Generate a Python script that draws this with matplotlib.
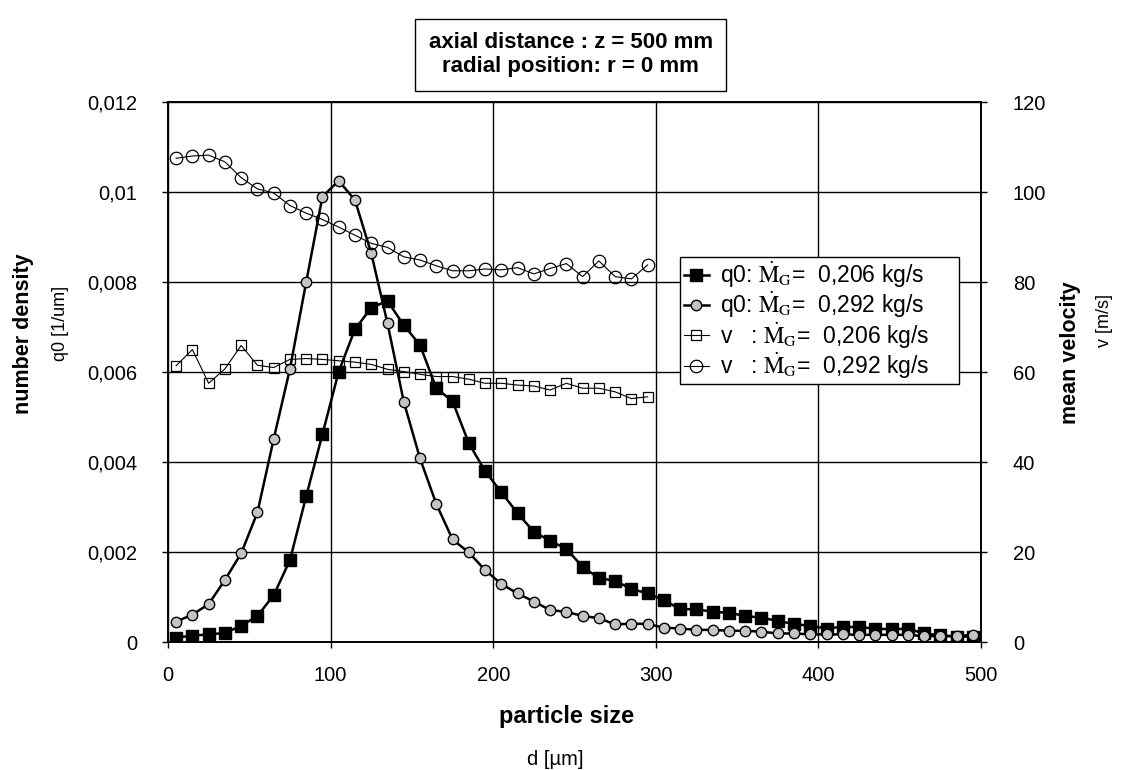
import matplotlib
matplotlib.use("Agg")
import matplotlib.pyplot as plt
from matplotlib.ticker import FuncFormatter, MultipleLocator

plt.rcParams['font.family'] = ['Liberation Sans', 'DejaVu Sans']
plt.rcParams['mathtext.fontset'] = 'stix'

# ---- data ----
d_q0 = list(range(5, 500, 10))
q0_206 = [0.00010, 0.00014, 0.00017, 0.00020, 0.00036, 0.00058, 0.00104, 0.00182, 0.00324, 0.00462,
          0.00601, 0.00695, 0.00743, 0.00758, 0.00704, 0.00660, 0.00564, 0.00535, 0.00442, 0.00380,
          0.00333, 0.00286, 0.00245, 0.00225, 0.00207, 0.00167, 0.00142, 0.00136, 0.00118, 0.00108,
          0.00093, 0.00073, 0.00073, 0.00067, 0.00065, 0.00058, 0.00054, 0.00047, 0.00040, 0.00036,
          0.00030, 0.00034, 0.00033, 0.00030, 0.00028, 0.00030, 0.00019, 0.00015, 0.00012, 0.00012]
q0_292 = [0.00045, 0.00061, 0.00084, 0.00138, 0.00197, 0.00288, 0.00451, 0.00607, 0.00800, 0.00990,
          0.01025, 0.00982, 0.00864, 0.00708, 0.00534, 0.00408, 0.00307, 0.00228, 0.00199, 0.00160,
          0.00129, 0.00108, 0.00090, 0.00071, 0.00067, 0.00058, 0.00053, 0.00039, 0.00041, 0.00040,
          0.00032, 0.00030, 0.00027, 0.00027, 0.00025, 0.00025, 0.00023, 0.00019, 0.00019, 0.00017,
          0.00017, 0.00017, 0.00016, 0.00016, 0.00016, 0.00016, 0.00013, 0.00013, 0.00013, 0.00016]
d_v = list(range(5, 300, 10))
v_206 = [61.4, 65.0, 57.5, 60.7, 65.9, 61.5, 61.0, 62.8, 63.0, 62.8,
         62.5, 62.2, 61.7, 60.6, 60.1, 59.5, 59.0, 59.0, 58.4, 57.5,
         57.5, 57.1, 56.9, 56.0, 57.5, 56.4, 56.4, 55.6, 54.1, 54.5]
v_292 = [107.5, 108.0, 108.2, 106.7, 103.2, 100.7, 99.8, 97.0, 95.3, 93.9,
         92.2, 90.4, 88.6, 87.7, 85.6, 84.9, 83.6, 82.5, 82.5, 82.9,
         82.7, 83.2, 81.8, 83.0, 84.1, 81.2, 84.7, 81.2, 80.7, 83.8]

labels = [r"q0: $\dot{\mathrm{M}}_{\mathrm{G}}$=  0,206 kg/s     ",
          r"q0: $\dot{\mathrm{M}}_{\mathrm{G}}$=  0,292 kg/s     ",
          r"v   : $\dot{\mathrm{M}}_{\mathrm{G}}$=  0,206 kg/s     ",
          r"v   : $\dot{\mathrm{M}}_{\mathrm{G}}$=  0,292 kg/s     "]

fig = plt.figure(figsize=(11.26, 7.7), dpi=100)
ax = fig.add_axes([0.1492, 0.1662, 0.7220, 0.7013])
ax2 = ax.twinx()

l1, = ax.plot(d_q0, q0_206, color='black', lw=1.8, marker='s', ms=8,
              mfc='black', mec='black', label=labels[0], zorder=3)
l2, = ax.plot(d_q0, q0_292, color='black', lw=1.8, marker='o', ms=7.5,
              mfc='#c4c4c4', mec='black', mew=1.0, label=labels[1], zorder=3)
l3, = ax2.plot(d_v, v_206, color='black', lw=0.8, marker='s', ms=7.5,
               mfc='none', mec='black', mew=0.9, label=labels[2])
l4, = ax2.plot(d_v, v_292, color='black', lw=0.8, marker='o', ms=9,
               mfc='none', mec='black', mew=0.9, label=labels[3])

ax.set_xlim(0, 500)
ax.set_ylim(0, 0.012)
ax2.set_ylim(0, 120)
ax.xaxis.set_major_locator(MultipleLocator(100))
ax.yaxis.set_major_locator(MultipleLocator(0.002))
ax2.yaxis.set_major_locator(MultipleLocator(20))
ax.yaxis.set_major_formatter(FuncFormatter(lambda v, p: "0" if abs(v) < 1e-12 else f"{v:g}".replace('.', ',')))
ax.grid(True, color='black', lw=1.0)
ax.set_axisbelow(True)

for a in (ax, ax2):
    a.tick_params(labelsize=14.5, length=4, width=1, color='black', direction='out')
    for s in a.spines.values():
        s.set_linewidth(1.2)
        s.set_color('black')
ax.tick_params(axis='y', pad=18)
ax.tick_params(axis='x', pad=13)
ax2.tick_params(axis='y', pad=19)

# axis labels
fig.text(0.021, 0.567, "number density", rotation=90, ha='center', va='center',
         fontsize=15.5, fontweight='bold')
fig.text(0.054, 0.58, "q0 [1/um]", rotation=90, ha='center', va='center', fontsize=13)
fig.text(0.951, 0.542, "mean velocity", rotation=90, ha='center', va='center',
         fontsize=15.5, fontweight='bold')
fig.text(0.981, 0.584, "v [m/s]", rotation=90, ha='center', va='center', fontsize=13)
fig.text(0.503, 0.069, "particle size", ha='center', va='center', fontsize=17, fontweight='bold')
fig.text(0.493, 0.013, "d [µm]", ha='center', va='center', fontsize=14.5)

# title box
fig.text(0.507, 0.929, "axial distance : z = 500 mm\nradial position: r = 0 mm",
         ha='center', va='center', fontsize=16, fontweight='bold', linespacing=1.2,
         bbox=dict(boxstyle='square,pad=0.6', fc='white', ec='black', lw=1.0))

leg = ax2.legend(handles=[l1, l2, l3, l4], loc='upper left', bbox_to_anchor=(0.63, 0.713),
                 fontsize=16.5, frameon=True, fancybox=False, framealpha=1, edgecolor='black',
                 handlelength=1.1, handletextpad=0.5, borderpad=0.15, labelspacing=0.0,
                 borderaxespad=0)
leg.get_frame().set_linewidth(1.0)

fig.savefig("out.png", dpi=100)
